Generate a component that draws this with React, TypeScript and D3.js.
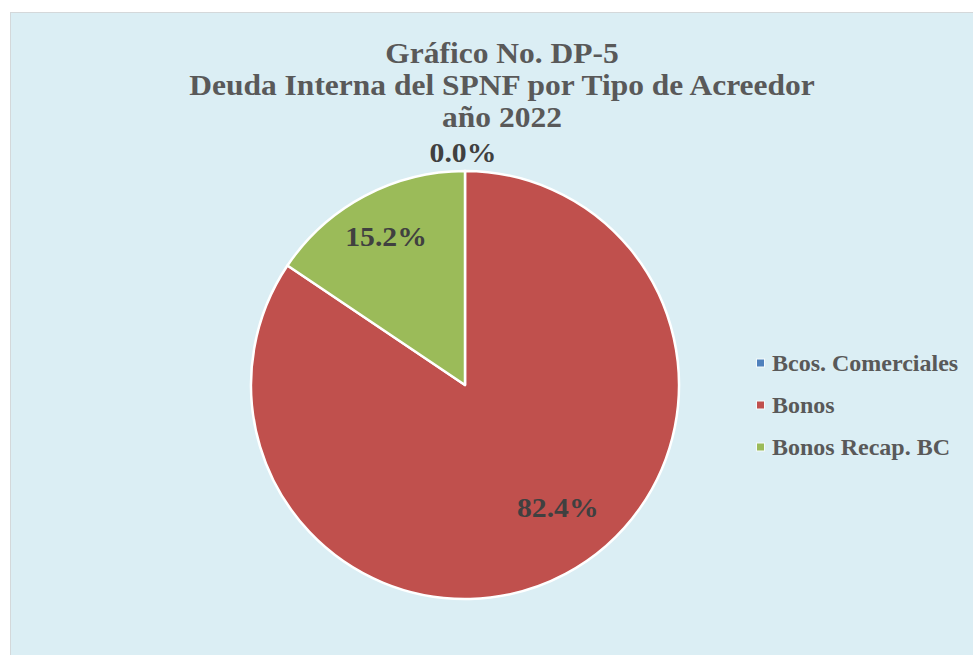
import React from "react";
import * as d3 from "d3";

const titleLines = ["Gráfico No. DP-5", "Deuda Interna del SPNF por Tipo de Acreedor", "año 2022"];
const categories = ["Bcos. Comerciales", "Bonos", "Bonos Recap. BC"];
const shares = [0.0, 82.4, 15.2];
const colors = ["#4F81BD", "#C0504D", "#9BBB59"];

// label placement style (best-fit like): radius factor and angular nudge (degrees)
const labelRadius = [1.04, 0.72, 0.785];
const labelNudge = [0, -9, 0];

const W = 973;
const H = 655;
const cx = 465;
const cy = 385;
const R = 214;
const FONT = "'Liberation Serif', 'Times New Roman', serif";
const TEXT = "#595959";
const LABEL = "#404040";

export default function App() {
  const pie = d3.pie<number>().sort(null).value((d) => d)(shares);
  const arc = d3.arc<d3.PieArcDatum<number>>().innerRadius(0).outerRadius(R);
  const fmt = d3.format(".1f");
  const titleY = [63, 95, 127];

  return (
    <div style={{ position: "fixed", left: 0, top: 0 }}>
      <svg width={W} height={H} style={{ display: "block", background: "#ffffff" }}>
        <rect x={10.5} y={12.5} width={W + 20} height={H + 20} fill="#DBEEF4" stroke="#D4D8DA" strokeWidth={1} />
        <g fontFamily={FONT} fontWeight="bold" fill={TEXT} textAnchor="middle">
          {titleLines.map((t, i) => (
            <text key={i} transform={`translate(502,${titleY[i]}) scale(1.05,1)`} fontSize={30}>
              {t}
            </text>
          ))}
        </g>
        <g transform={`translate(${cx},${cy})`}>
          {pie.map((p, i) => (
            <path key={i} d={arc(p) || ""} fill={colors[i]} stroke="#ffffff" strokeWidth={2.5} strokeLinejoin="round" />
          ))}
          {pie.map((p, i) => {
            const mid = (p.startAngle + p.endAngle) / 2 + (labelNudge[i] * Math.PI) / 180;
            const r = R * labelRadius[i];
            const x = Math.sin(mid) * r;
            const y = -Math.cos(mid) * r;
            const outside = p.value === 0;
            return (
              <text
                key={i}
                transform={`translate(${x - (outside ? 2 : 0)},${y}) scale(1.1,1)`}
                dy={outside ? "0" : "0.35em"}
                textAnchor="middle"
                fontFamily={FONT}
                fontWeight="bold"
                fontSize={27}
                fill={LABEL}
              >
                {fmt(p.value)}%
              </text>
            );
          })}
        </g>
        <g fontFamily={FONT} fontWeight="bold" fill={TEXT} fontSize={24}>
          {categories.map((c, i) => (
            <g key={i} transform={`translate(757,${363 + i * 42})`}>
              <rect x={-1} y={-4.5} width={9} height={9} fill="#ffffff" opacity={0.7} />
              <rect x={0} y={-3.5} width={7} height={7} fill={colors[i]} />
              <text x={15} y={0} dy="0.35em">
                {c}
              </text>
            </g>
          ))}
        </g>
      </svg>
    </div>
  );
}
